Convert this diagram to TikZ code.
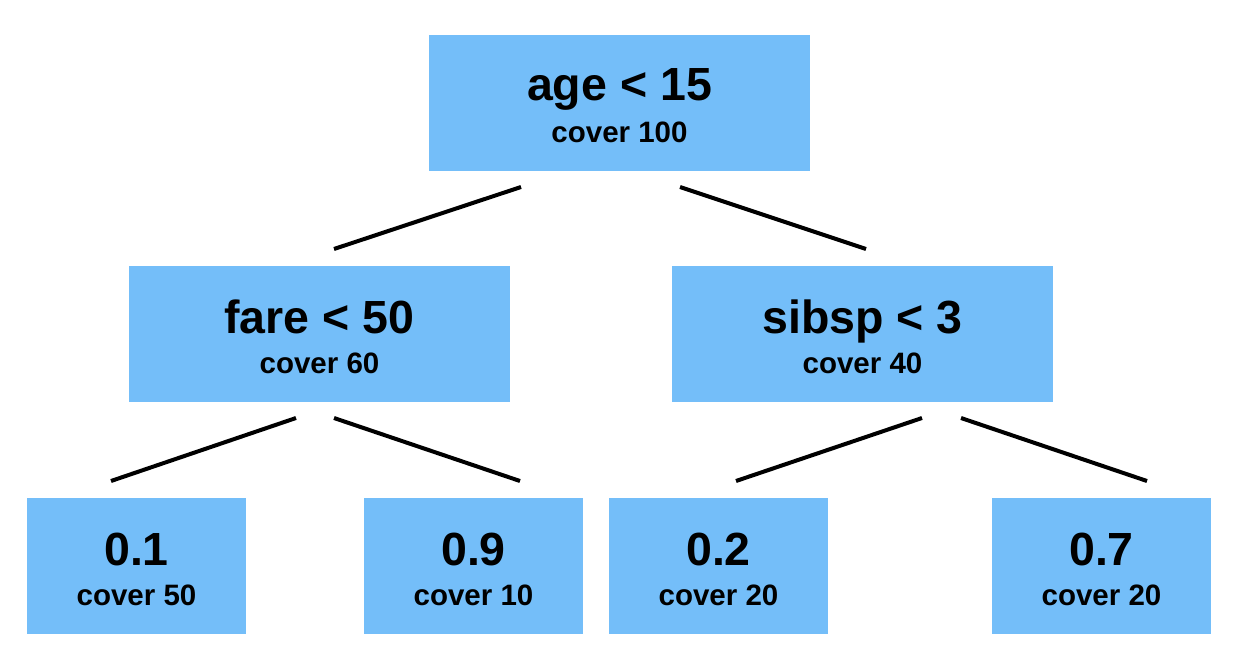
\documentclass[tikz,border=0pt]{standalone}
\usepackage{fontspec}
\setmainfont{Liberation Sans}
\definecolor{boxblue}{RGB}{116,190,249}
\tikzset{
  treebox/.style={fill=boxblue, draw=none, inner sep=0pt, minimum height=136pt},
  widebox/.style={treebox, minimum width=381pt},
  leafbox/.style={treebox, minimum width=219pt},
  bigtxt/.style={anchor=base, inner sep=0pt, font=\bfseries\fontsize{46.5}{50}\selectfont},
  smalltxt/.style={anchor=base, inner sep=0pt, font=\bfseries\fontsize{29.5}{32}\selectfont},
  edge/.style={line width=4pt, black}
}
\begin{document}
\begin{tikzpicture}[x=1pt,y=-1pt]
\useasboundingbox (0,0) rectangle (1254,662);
% boxes
\node[widebox] (root) at (619.5,102.5) {};
\node[widebox] (fare) at (319.5,333.5) {};
\node[widebox] (sib) at (862.5,333.5) {};
\node[leafbox] (l1) at (136.5,565.5) {};
\node[leafbox] (l2) at (473.5,565.5) {};
\node[leafbox] (l3) at (718.5,565.5) {};
\node[leafbox] (l4) at (1101.5,565.5) {};
% texts
\node[bigtxt] (t0) at ([yshift=2.5pt]root.center) {age < 15};
\node[smalltxt] (s0) at ([yshift=-39.5pt]root.center) {cover 100};
\node[bigtxt] (t1) at ([yshift=0.5pt]fare.center) {fare < 50};
\node[smalltxt] (s1) at ([yshift=-40pt]fare.center) {cover 60};
\node[bigtxt] (t2) at ([yshift=0.5pt]sib.center) {sibsp < 3};
\node[smalltxt] (s2) at ([yshift=-40pt]sib.center) {cover 40};
\node[bigtxt] (t3) at ([yshift=0.5pt]l1.center) {0.1};
\node[smalltxt] (s3) at ([yshift=-39.5pt]l1.center) {cover 50};
\node[bigtxt] (t4) at ([yshift=0.5pt]l2.center) {0.9};
\node[smalltxt] (s4) at ([yshift=-39.5pt]l2.center) {cover 10};
\node[bigtxt] (t5) at ([yshift=0.5pt]l3.center) {0.2};
\node[smalltxt] (s5) at ([yshift=-39.5pt]l3.center) {cover 20};
\node[bigtxt] (t6) at ([yshift=0.5pt]l4.center) {0.7};
\node[smalltxt] (s6) at ([yshift=-39.5pt]l4.center) {cover 20};
% connector end points
\coordinate (r1) at (521,187);
\coordinate (r2) at (334,249);
\coordinate (r3) at (680,187);
\coordinate (r4) at (866,249);
\coordinate (f1) at (296,418);
\coordinate (f2) at (111,481);
\coordinate (f3) at (334,418);
\coordinate (f4) at (520,481);
\coordinate (g1) at (922,418);
\coordinate (g2) at (736,481);
\coordinate (g3) at (961,418);
\coordinate (g4) at (1147,481);
\draw[edge] (r1) -- (r2);
\draw[edge] (r3) -- (r4);
\draw[edge] (f1) -- (f2);
\draw[edge] (f3) -- (f4);
\draw[edge] (g1) -- (g2);
\draw[edge] (g3) -- (g4);
\end{tikzpicture}
\end{document}
